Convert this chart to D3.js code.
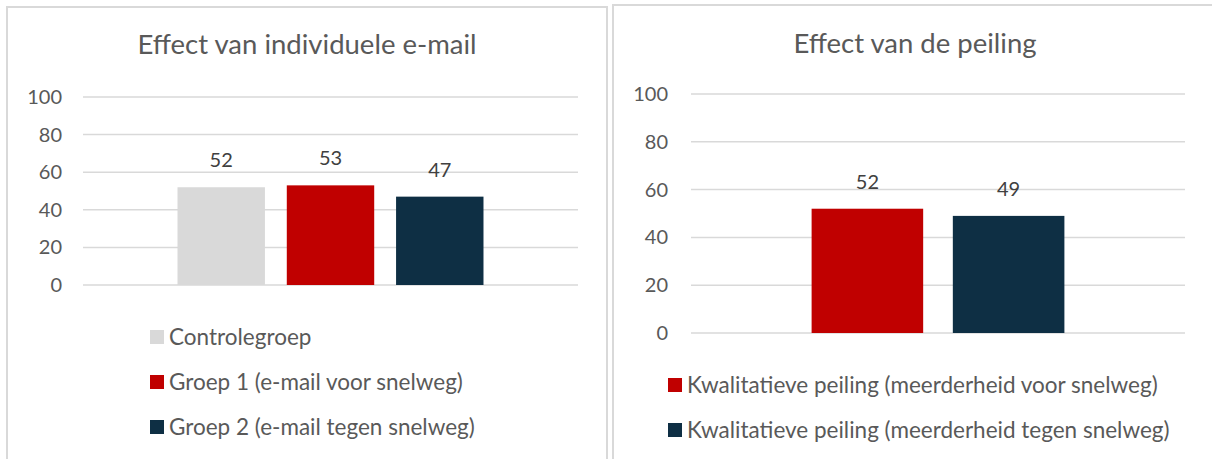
<!DOCTYPE html>
<meta charset="utf-8">
<script src="https://d3js.org/d3.v7.min.js"></script>
<style>
  body { margin: 0; background: #fff; }
  text { font-family: Lato, "Open Sans", sans-serif; fill: #595959; }
</style>
<div id="my_dataviz"></div>
<script>

// data
var ticks = [0, 20, 40, 60, 80, 100];

var emailTitle = "Effect van individuele e-mail";
var emailSeries = ["Controlegroep", "Groep 1 (e-mail voor snelweg)", "Groep 2 (e-mail tegen snelweg)"];
var emailValues = [52, 53, 47];
var emailColors = ["#d9d9d9", "#c00000", "#0e2f44"];

var pollTitle = "Effect van de peiling";
var pollSeries = ["Kwalitatieve peiling (meerderheid voor snelweg)", "Kwalitatieve peiling (meerderheid tegen snelweg)"];
var pollValues = [52, 49];
var pollColors = ["#c00000", "#0e2f44"];

var svg = d3.select("#my_dataviz")
  .append("svg")
    .attr("width", 1212)
    .attr("height", 459);

// one panel = one Excel-like chart box
function drawPanel(opt) {
  var g = svg.append("g");

  // chart border
  g.append("rect")
    .attr("x", opt.box[0]).attr("y", opt.box[1])
    .attr("width", opt.box[2]).attr("height", opt.box[3])
    .attr("fill", "none")
    .attr("stroke", "#d9d9d9")
    .attr("stroke-width", 2);

  g.append("text")
    .attr("x", opt.titleX).attr("y", opt.titleY)
    .attr("text-anchor", "middle")
    .style("font-size", "27.5px")
    .text(opt.title);

  var y = d3.scaleLinear().domain([0, 100]).range([opt.y0, opt.y100]);

  // gridlines
  g.append("g")
    .selectAll("line")
    .data(ticks)
    .enter()
    .append("line")
      .attr("x1", opt.x0).attr("x2", opt.x1)
      .attr("y1", function(d) { return y(d) })
      .attr("y2", function(d) { return y(d) })
      .attr("stroke", "#d9d9d9")
      .attr("stroke-width", 1.5);

  // y axis labels
  var yAxis = g.append("g")
    .attr("transform", "translate(" + opt.labelX + ",0)")
    .call(d3.axisLeft(y).tickValues(ticks).tickSize(0).tickPadding(0));
  yAxis.select(".domain").remove();
  yAxis.selectAll("text").style("font-size", "20px").attr("fill", "#595959");

  // bars
  var outer = d3.scaleBand().domain([""]).range([opt.x0, opt.x1])
    .paddingInner(opt.outerPad).paddingOuter(opt.outerPad);
  var inner = d3.scaleBand().domain(opt.series)
    .range([outer(""), outer("") + outer.bandwidth()])
    .paddingInner(opt.innerPad);

  g.append("g")
    .selectAll("rect")
    .data(opt.series)
    .enter()
    .append("rect")
      .attr("x", function(d) { return inner(d) })
      .attr("y", function(d, i) { return y(opt.values[i]) })
      .attr("width", inner.bandwidth())
      .attr("height", function(d, i) { return y(0) - y(opt.values[i]) })
      .attr("fill", function(d, i) { return opt.colors[i] });

  // value labels
  g.append("g")
    .selectAll("text")
    .data(opt.series)
    .enter()
    .append("text")
      .attr("x", function(d) { return inner(d) + inner.bandwidth() / 2 })
      .attr("y", function(d, i) { return y(opt.values[i]) - 20 })
      .attr("text-anchor", "middle")
      .style("font-size", "20px")
      .style("fill", "#404040")
      .text(function(d, i) { return opt.values[i] });

  // legend
  var leg = g.append("g")
    .selectAll("g")
    .data(opt.series)
    .enter()
    .append("g")
      .attr("transform", function(d, i) { return "translate(" + opt.legX + "," + (opt.legY + i * opt.legStep) + ")" });
  leg.append("rect")
    .attr("x", 0).attr("y", -7)
    .attr("width", 14).attr("height", 14)
    .attr("fill", function(d, i) { return opt.colors[i] });
  leg.append("text")
    .attr("x", 19).attr("dy", "0.35em")
    .style("font-size", "22.5px")
    .text(function(d) { return d });
}

drawPanel({
  box: [7, 7, 600, 470],
  title: emailTitle, titleX: 307, titleY: 54,
  y0: 285, y100: 97, x0: 83, x1: 578, labelX: 62,
  series: emailSeries, values: emailValues, colors: emailColors,
  outerPad: 0.236, innerPad: 0.2,
  legX: 150, legY: 337, legStep: 45
});

drawPanel({
  box: [613, 5, 620, 470],
  title: pollTitle, titleX: 915, titleY: 53,
  y0: 333, y100: 94, x0: 691, x1: 1185, labelX: 668,
  series: pollSeries, values: pollValues, colors: pollColors,
  outerPad: 0.323, innerPad: 0.21,
  legX: 668, legY: 385, legStep: 45
});

</script>
